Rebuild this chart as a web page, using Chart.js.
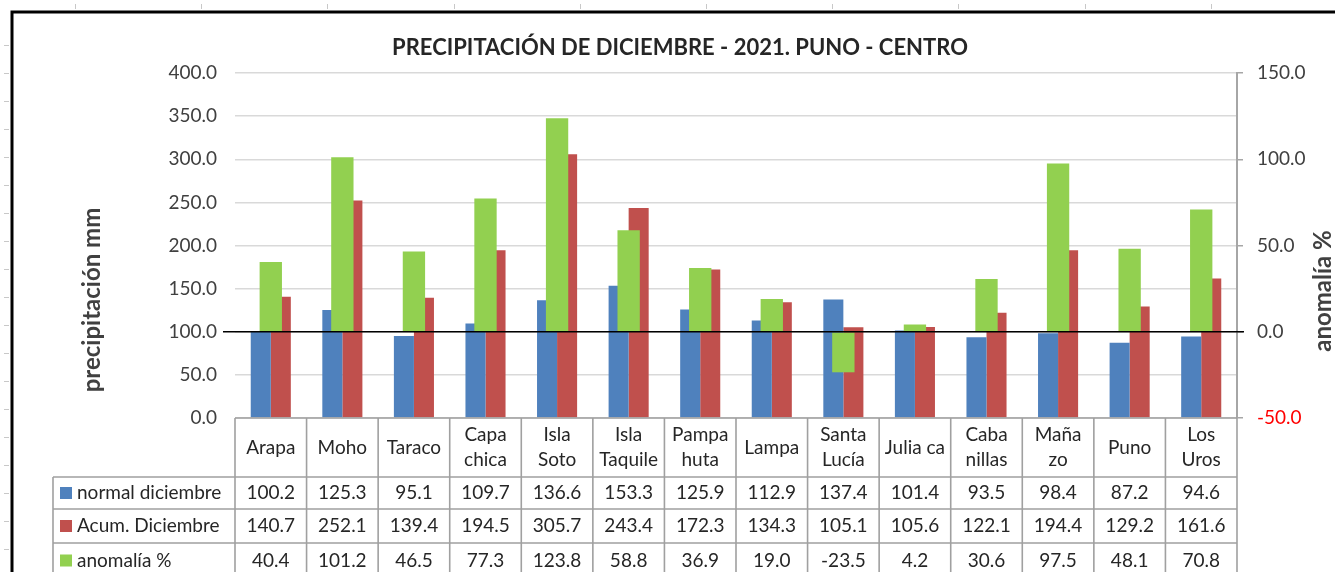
<!DOCTYPE html>
<html>
<head>
<meta charset="utf-8">
<script src="https://cdn.jsdelivr.net/npm/chart.js@4.4.1/dist/chart.umd.min.js"></script>
<style>
  html, body { margin: 0; padding: 0; background: #fff; }
  #wrap { position: relative; width: 1335px; height: 572px; }
</style>
</head>
<body>
<div id="wrap"><canvas id="grafico" width="1335" height="572"></canvas></div>
<script>
// estaciones (cada una con sus líneas de rótulo en la tabla)
const estaciones = [
  ['Arapa'], ['Moho'], ['Taraco'], ['Capa', 'chica'], ['Isla', 'Soto'], ['Isla', 'Taquile'],
  ['Pampa', 'huta'], ['Lampa'], ['Santa', 'Lucía'], ['Julia ca'], ['Caba', 'nillas'],
  ['Maña', 'zo'], ['Puno'], ['Los', 'Uros']
];
const normalDic = [100.2, 125.3, 95.1, 109.7, 136.6, 153.3, 125.9, 112.9, 137.4, 101.4, 93.5, 98.4, 87.2, 94.6];
const acumDic = [140.7, 252.1, 139.4, 194.5, 305.7, 243.4, 172.3, 134.3, 105.1, 105.6, 122.1, 194.4, 129.2, 161.6];
const anomalia = [40.4, 101.2, 46.5, 77.3, 123.8, 58.8, 36.9, 19.0, -23.5, 4.2, 30.6, 97.5, 48.1, 70.8];

const titulo = 'PRECIPITACIÓN DE DICIEMBRE - 2021. PUNO - CENTRO';
const tituloIzq = 'precipitación mm';
const tituloDer = 'anomalía %';
const FUENTE = 'Lato, "Open Sans", sans-serif';
const colores = ['#4F81BD', '#C0504D', '#92D050'];

// tabla de datos, títulos y línea del cero del eje secundario
const tablaPlugin = {
  id: 'tabla',
  afterDatasetsDraw(chart) {
    const { ctx, chartArea } = chart;
    const yc = chart.scales.y2.getPixelForValue(0);
    ctx.save();
    ctx.strokeStyle = '#000';
    ctx.lineWidth = 1.5;
    ctx.beginPath();
    ctx.moveTo(chartArea.left - 12, yc);
    ctx.lineTo(chartArea.right + 7, yc);
    ctx.stroke();
    ctx.restore();
  },
  afterDraw(chart) {
    const { ctx, chartArea } = chart;
    const x = chart.scales.x;
    const ds = chart.data.datasets;
    const ancho = chartArea.width / estaciones.length;
    const top = chartArea.bottom;
    const filas = [top, top + 59, top + 91, top + 125, top + 160];
    const izq = 53;

    ctx.save();
    // título
    ctx.fillStyle = '#262626';
    ctx.font = 'bold 22px ' + FUENTE;
    ctx.textAlign = 'center';
    ctx.textBaseline = 'middle';
    ctx.fillText(titulo, 680, 48);

    // títulos de los ejes
    ctx.fillStyle = '#404040';
    ctx.font = 'bold 24px ' + FUENTE;
    ctx.save();
    ctx.translate(92, 300);
    ctx.rotate(-Math.PI / 2);
    ctx.fillText(tituloIzq, 0, 0);
    ctx.restore();
    ctx.save();
    ctx.translate(1323, 291);
    ctx.rotate(-Math.PI / 2);
    ctx.fillText(tituloDer, 0, 0);
    ctx.restore();

    // bordes de la tabla
    ctx.strokeStyle = '#a0a0a0';
    ctx.lineWidth = 1.6;
    ctx.beginPath();
    ctx.moveTo(chartArea.left, filas[0]);
    ctx.lineTo(chartArea.right, filas[0]);
    for (let r = 1; r < 4; r++) {
      ctx.moveTo(izq, filas[r]);
      ctx.lineTo(chartArea.right, filas[r]);
    }
    ctx.moveTo(izq, filas[1]);
    ctx.lineTo(izq, filas[4]);
    for (let i = 0; i <= estaciones.length; i++) {
      const xx = chartArea.left + i * ancho;
      ctx.moveTo(xx, filas[0]);
      ctx.lineTo(xx, filas[4]);
    }
    ctx.stroke();

    // rótulos de estaciones
    ctx.font = '19px ' + FUENTE;
    ctx.fillStyle = '#262626';
    estaciones.forEach((lineas, i) => {
      const cx = x.getPixelForValue(i);
      const cy = (filas[0] + filas[1]) / 2;
      if (lineas.length === 1) {
        ctx.fillText(lineas[0], cx, cy);
      } else {
        ctx.fillText(lineas[0], cx, cy - 12.5);
        ctx.fillText(lineas[1], cx, cy + 12.5);
      }
    });

    // filas de valores
    ds.forEach((d, r) => {
      const cy = (filas[r + 1] + filas[r + 2]) / 2;
      ctx.fillStyle = d.backgroundColor;
      ctx.fillRect(izq + 7, cy - 6, 12, 12);
      ctx.fillStyle = '#262626';
      ctx.textAlign = 'left';
      ctx.fillText(d.label, izq + 24, cy);
      ctx.textAlign = 'center';
      d.data.forEach((v, i) => {
        ctx.fillText(v.toFixed(1), x.getPixelForValue(i), cy);
      });
    });

    // marco del gráfico
    ctx.strokeStyle = '#000';
    ctx.lineWidth = 3;
    ctx.beginPath();
    ctx.moveTo(12, 572);
    ctx.lineTo(12, 12);
    ctx.lineTo(1335, 12);
    ctx.stroke();

    // marcas de la hoja de cálculo
    ctx.strokeStyle = '#c8c8c8';
    ctx.lineWidth = 1;
    ctx.beginPath();
    for (let xx = 75; xx < 1335; xx += 126.2) {
      ctx.moveTo(Math.round(xx) + 0.5, 4);
      ctx.lineTo(Math.round(xx) + 0.5, 9);
    }
    for (let yy = 45; yy < 572; yy += 28) {
      ctx.moveTo(4, Math.round(yy) + 0.5);
      ctx.lineTo(9, Math.round(yy) + 0.5);
    }
    ctx.stroke();
    ctx.restore();
  }
};

const ctx = document.getElementById('grafico').getContext('2d');
new Chart(ctx, {
  type: 'bar',
  data: {
    labels: estaciones.map(e => e.join(' ')),
    datasets: [
      { label: 'normal diciembre', data: normalDic, backgroundColor: colores[0], yAxisID: 'y',
        order: 2, categoryPercentage: 0.56, barPercentage: 1 },
      { label: 'Acum. Diciembre', data: acumDic, backgroundColor: colores[1], yAxisID: 'y',
        order: 2, categoryPercentage: 0.56, barPercentage: 1 },
      { label: 'anomalía %', data: anomalia, backgroundColor: colores[2], yAxisID: 'y2',
        order: 1, grouped: false, barPercentage: 0.39 }
    ]
  },
  options: {
    responsive: false,
    animation: false,
    layout: { padding: { left: 80, top: 73, right: 0, bottom: 154 } },
    plugins: {
      legend: { display: false },
      title: { display: false },
      tooltip: { enabled: false }
    },
    scales: {
      x: { display: false },
      y: {
        min: 0, max: 400,
        ticks: { stepSize: 50, padding: 18, color: '#404040', font: { family: FUENTE, size: 19 },
          callback: v => v.toFixed(1) },
        grid: { color: '#d9d9d9', drawTicks: false, lineWidth: 1.5 },
        border: { display: false },
        afterFit(s) { s.width = 155; }
      },
      y2: {
        position: 'right',
        min: -50, max: 150,
        ticks: { stepSize: 50, padding: 14, font: { family: FUENTE, size: 19 },
          color: c => c.tick.value < 0 ? '#FF0000' : '#404040',
          callback: v => v.toFixed(1) },
        grid: { drawOnChartArea: false, tickLength: 6, color: '#a6a6a6', lineWidth: 1.5 },
        border: { color: '#a6a6a6', width: 2 },
        afterFit(s) { s.width = 98; }
      }
    }
  },
  plugins: [tablaPlugin]
});
</script>
</body>
</html>
